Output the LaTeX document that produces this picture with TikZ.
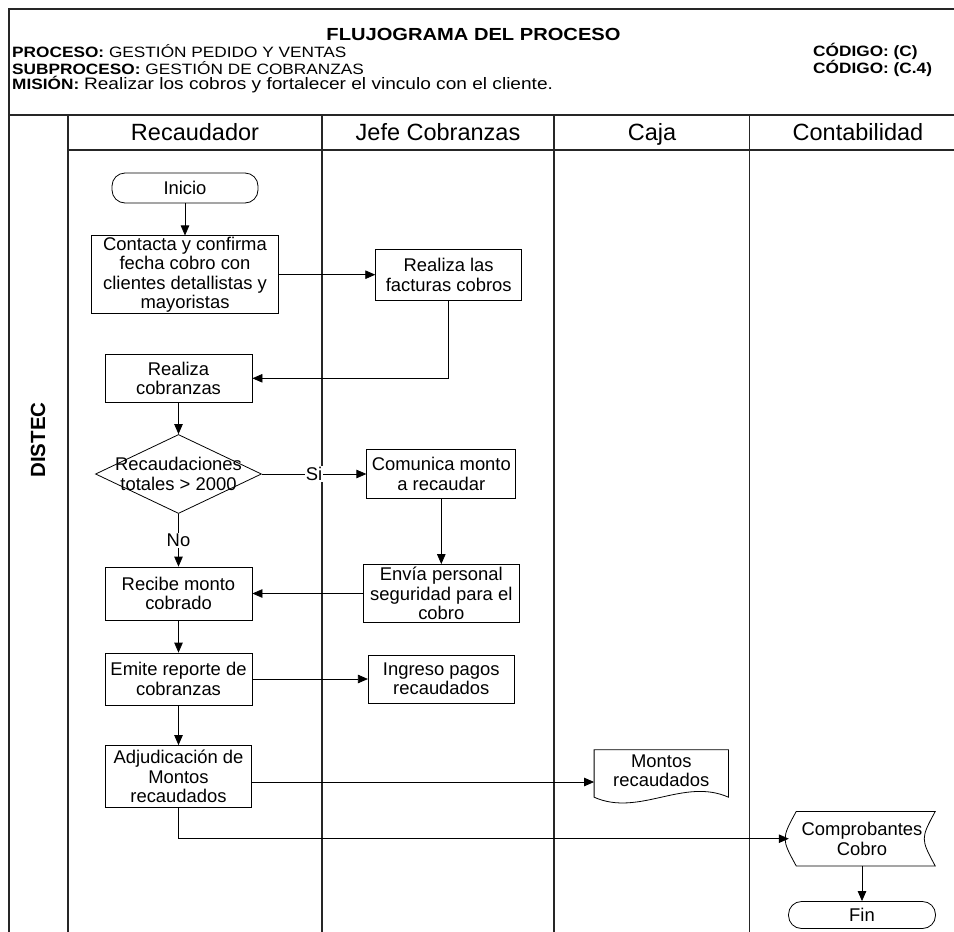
\documentclass[tikz,border=0pt]{standalone}
\usepackage{fontspec}
\setmainfont{Liberation Sans}
\newfontfamily\widefont{Liberation Sans}[FakeStretch=1.15]
\usetikzlibrary{arrows.meta,shapes.geometric}

\newcommand{\boxsize}{\fontsize{18.4}{19.5}\selectfont}
\newcommand{\lanesize}{\fontsize{23.5}{26}\selectfont}
\newcommand{\headsize}{\widefont\fontsize{15}{17}\selectfont}

\begin{document}
\begin{tikzpicture}[x=1pt, y=-1pt, >={Triangle[length=10pt,width=8.5pt]},
  frame/.style={line width=1.2pt, draw=black!85},
  boxdim/.style 2 args={minimum width=#1pt, minimum height=#2pt},
  proc/.style={draw, line width=0.8pt, font=\boxsize, align=center, inner sep=1pt},
  term/.style={proc, rounded corners=13pt},
  decision/.style={draw, diamond, line width=0.8pt, inner sep=0pt},
  flow/.style={->, line width=0.8pt},
  lane/.style={font=\lanesize, anchor=base},
  lbl/.style={font=\boxsize, fill=white, inner sep=1pt}]
  \useasboundingbox (0,0) rectangle (954,932);

  % Frame and swimlanes
  \draw[frame] (9,9) rectangle (966,950);
  \draw[frame] (9,115) -- (966,115);
  \draw[frame] (68,150) -- (966,150);
  \foreach \x in {68,322,554,749.5}
    \draw[frame] (\x,115) -- (\x,950);

  % Header
  \node[font=\widefont\fontsize{17.5}{19}\selectfont\bfseries] (titulo) at (473.5,34) {FLUJOGRAMA DEL PROCESO};
  \node[font=\headsize, anchor=west, inner sep=0pt] (proceso) at (12,51) {\textbf{PROCESO:} GESTIÓN PEDIDO Y VENTAS};
  \node[font=\headsize, anchor=west, inner sep=0pt] (subproceso) at (12,68) {\textbf{SUBPROCESO:} GESTIÓN DE COBRANZAS};
  \node[font=\headsize, anchor=west, inner sep=0pt] (mision) at (12,85) {\textbf{MISIÓN:} {\fontsize{16.6}{17}\selectfont Realizar los cobros y fortalecer el vinculo con el cliente.}};
  \node[font=\headsize\bfseries, anchor=west, inner sep=0pt] (codigo) at (813,51) {CÓDIGO: (C)};
  \node[font=\headsize\bfseries, anchor=west, inner sep=0pt] (subcodigo) at (813,68) {CÓDIGO: (C.4)};

  % Lane titles
  \node[lane] (recaudador) at (195,140.5) {Recaudador};
  \node[lane] (jefe) at (438,140.5) {Jefe Cobranzas};
  \node[lane] (caja) at (652,140.5) {Caja};
  \node[lane] (contabilidad) at (858,140.5) {Contabilidad};
  \node[font=\fontsize{20.5}{24}\selectfont\bfseries, rotate=90] (distec) at (38,440) {DISTEC};

  % Recaudador column
  \node[term, boxdim={146}{30}] (inicio) at (185,188) {Inicio};
  \node[proc, boxdim={187}{77}] (contacta) at (185,274.7) {Contacta y confirma\\fecha cobro con\\clientes detallistas y\\mayoristas};
  \node[proc, boxdim={147}{48}] (cobranzas) at (178.5,378.3) {Realiza\\cobranzas};
  \node[decision, boxdim={166}{79}] (dec) at (178.5,474) {};
  \node[font=\boxsize, align=center, inner sep=0pt] (dectext) at (dec.center) {Recaudaciones\\totales > 2000};
  \node[proc, boxdim={147}{53}] (recibe) at (178.5,593.5) {Recibe monto\\cobrado};
  \node[proc, boxdim={147}{52}] (emite) at (178.5,679) {Emite reporte de\\cobranzas};
  \node[proc, boxdim={146}{62}] (adj) at (178.5,776.5) {Adjudicación de\\Montos\\recaudados};

  % Jefe Cobranzas column
  \node[proc, boxdim={146}{51}] (facturas) at (448.7,274.7) {Realiza las\\facturas cobros};
  \node[proc, boxdim={149}{49}] (comunica) at (441.3,474) {Comunica monto\\a recaudar};
  \node[proc, boxdim={156}{58}] (envia) at (441.3,593.5) {Envía personal\\seguridad para el\\cobro};
  \node[proc, boxdim={146}{48}] (ingreso) at (441.3,679) {Ingreso pagos\\recaudados};

  % Caja: document
  \node[font=\boxsize, align=center, inner sep=0pt, boxdim={134}{42}] (montos) at (661.3,771) {Montos\\recaudados};
  \draw[line width=0.8pt] ([yshift=-5pt]montos.south west) -- (montos.north west) -- (montos.north east) -- ([yshift=-5pt]montos.south east)
    .. controls ([xshift=-45pt,yshift=15pt]montos.south east) and ([xshift=45pt,yshift=-25pt]montos.south west) .. cycle;

  % Contabilidad: stored data and end
  \node[font=\boxsize, align=center, inner sep=0pt, boxdim={146}{54}] (comp) at (862,838.7) {Comprobantes\\Cobro};
  \draw[line width=0.8pt] ([xshift=7.4pt]comp.north west) -- (comp.north east)
    .. controls ([xshift=-14.6pt]comp.east) .. (comp.south east) -- ([xshift=7.4pt]comp.south west)
    .. controls ([xshift=-7.4pt]comp.west) .. cycle;
  \node[term, boxdim={147}{27}] (fin) at (862,915) {Fin};

  % Connectors
  \draw[flow] (inicio.south) -- (contacta.north);
  \draw[flow] (contacta.east) -- (facturas.west);
  \draw[flow] (facturas.south) |- (cobranzas.east);
  \draw[flow] (cobranzas.south) -- (dec.north);
  \draw[flow] (dec.east) -- node[lbl] (si) {Si} (comunica.west);
  \draw[flow] (dec.south) -- node[lbl] (no) {No} (recibe.north);
  \draw[flow] (comunica.south) -- (envia.north);
  \draw[flow] (envia.west) -- (recibe.east);
  \draw[flow] (recibe.south) -- (emite.north);
  \draw[flow] (emite.east) -- (ingreso.west);
  \draw[flow] (emite.south) -- (adj.north);
  \draw[flow] ([yshift=-5.5pt]adj.east) -- ([yshift=-5.5pt]adj.east -| montos.west);
  \draw[flow] (adj.south) |- (comp.west);
  \draw[flow] (comp.south) -- (fin.north);
\end{tikzpicture}
\end{document}
